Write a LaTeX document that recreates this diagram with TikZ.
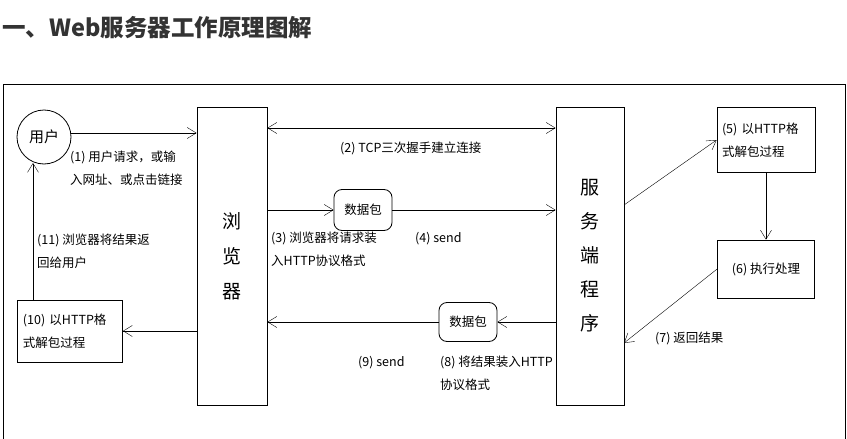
\documentclass[tikz,border=0pt]{standalone}
\usepackage{fontspec}
\setmainfont{Noto Sans CJK SC}
\usetikzlibrary{arrows.meta, positioning}

\begin{document}
\begin{tikzpicture}[x=1pt, y=-1pt, ->, >={Straight Barb[length=9pt,width=11pt]},
			every node/.style={font=\fontsize{12.5}{23}\selectfont},
			box/.style={draw, thick, inner sep=0pt},
			lbl/.style={align=left, anchor=north west, inner sep=0pt}]
			\useasboundingbox (0,0) rectangle (847,439);
			
			% Titolo e cornice
			\node[anchor=west, inner sep=0pt, text=black!80, font=\fontsize{23.5}{26}\selectfont\bfseries] (title) at (2,28) {一、Web服务器工作原理图解};
			\draw[-, thick] (3,445) -- (3,84) -- (845,84) -- (845,445);
			
			% Nodi principali
			\node[circle, draw, thick, minimum size=54pt, inner sep=0pt, font=\fontsize{15}{18}\selectfont] (user) at (44,137) {用户};
			\node[box, minimum width=70pt, minimum height=298pt, align=center, font=\fontsize{19}{35}\selectfont] (browser) at (232,256) {浏\\览\\器};
			\node[box, minimum width=68pt, minimum height=298pt, align=center, font=\fontsize{19}{34}\selectfont] (server) at (590,256) {服\\务\\端\\程\\序};
			\node[box, minimum width=98pt, minimum height=65pt, align=left, text width=88pt] (unpack) at (766,140) {(5) 以HTTP格\\式解包过程};
			\node[box, minimum width=97pt, minimum height=58pt] (exec) at (766,269) {(6) 执行处理};
			\node[box, minimum width=105pt, minimum height=62pt, align=left, text width=94pt] (unpackb) at (70,331) {(10) 以HTTP格\\式解包过程};
			\node[box, rounded corners=8pt, minimum width=58pt, minimum height=41pt] (pkt1) at (363,210) {数据包};
			\node[box, rounded corners=8pt, minimum width=58pt, minimum height=39pt] (pkt2) at (468,322) {数据包};
			
			% Punti di aggancio
			\coordinate (b1) at (browser.west |- 0,133);
			\coordinate (b2) at (browser.east |- 0,128);
			\coordinate (s2) at (server.west |- 0,128);
			\coordinate (b3) at (browser.east |- pkt1);
			\coordinate (s3) at (server.west |- pkt1);
			\coordinate (s8) at (server.west |- pkt2);
			\coordinate (b9) at (browser.east |- pkt2);
			\coordinate (b10) at (browser.west |- unpackb);
			\coordinate (s5) at (624,205);
			\coordinate (s7) at (624,343);
			
			% Connessioni
			\draw (user.east |- b1) -- (b1);
			\draw[<->] (b2) -- (s2);
			\draw (b3) -- (pkt1);
			\draw (pkt1) -- (s3);
			\draw (s8) -- (pkt2);
			\draw (pkt2) -- (b9);
			\draw (b10) -- (unpackb.east);
			\draw (unpackb.north -| 33,0) -- (33,163);
			\draw (s5) -- (unpack.west);
			\draw (unpack) -- (exec);
			\draw (exec.west) -- (s7);
			
			% Etichette
			\node[lbl] (l1) at (70,151) {(1) 用户请求，或输\\入网址、或点击链接};
			\node[lbl] (l2) at (340,142) {(2) TCP三次握手建立连接};
			\node[lbl] (l3) at (271,232) {(3) 浏览器将请求装\\入HTTP协议格式};
			\node[lbl] (l4) at (415,232) {(4) send};
			\node[lbl] (l11) at (37,234) {(11) 浏览器将结果返\\回给用户};
			\node[lbl] (l7) at (655,332) {(7) 返回结果};
			\node[lbl] (l9) at (358,356) {(9) send};
			\node[lbl] (l8) at (440,356) {(8) 将结果装入HTTP\\协议格式};
		\end{tikzpicture}
\end{document}
